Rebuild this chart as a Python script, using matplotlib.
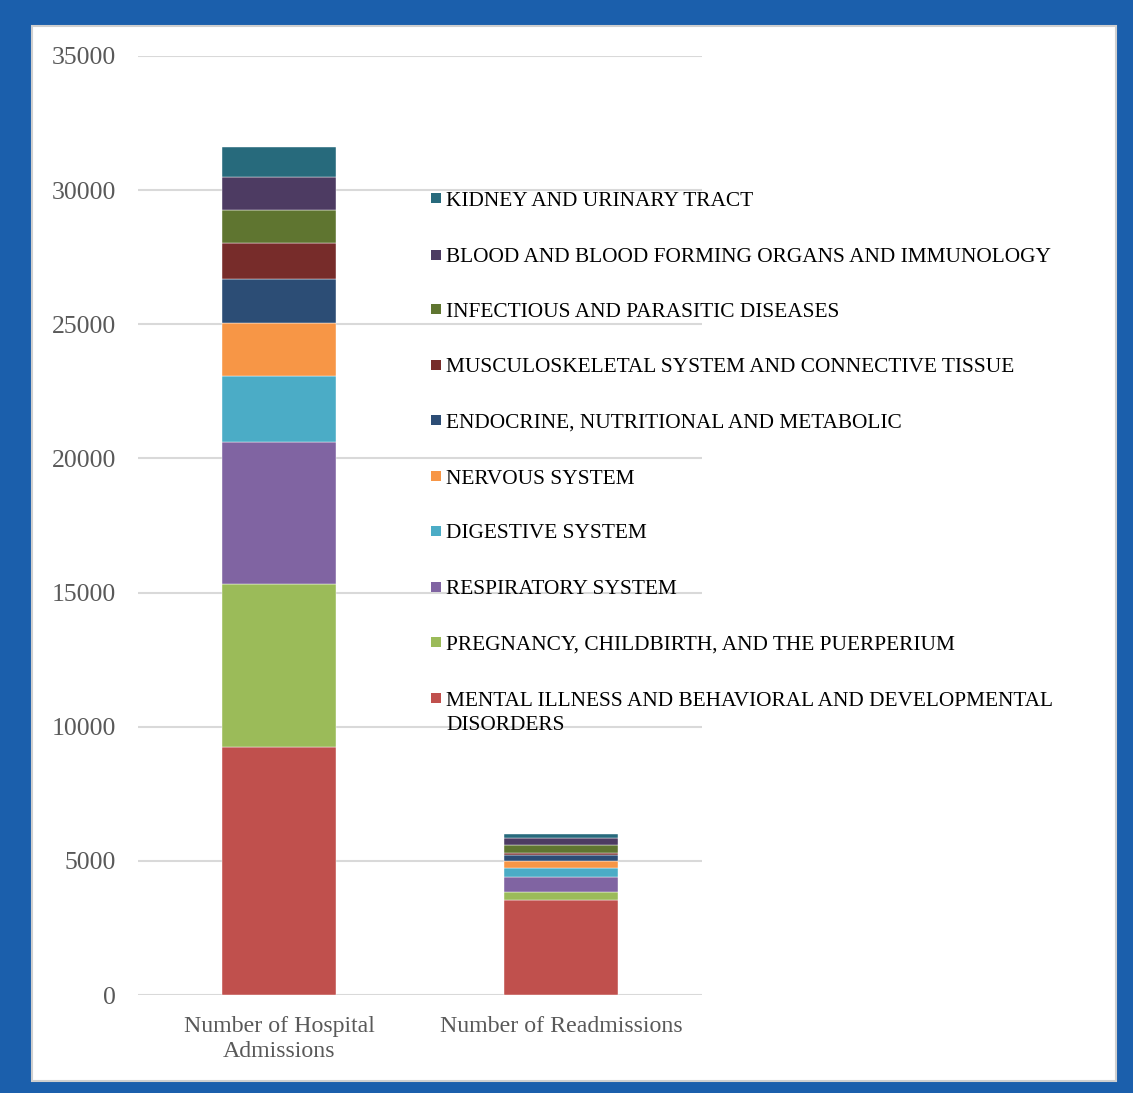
import matplotlib.pyplot as plt
from matplotlib.patches import Rectangle

groups = ['Number of Hospital\nAdmissions', 'Number of Readmissions']

categories = [
    'MENTAL ILLNESS AND BEHAVIORAL AND DEVELOPMENTAL\nDISORDERS',
    'PREGNANCY, CHILDBIRTH, AND THE PUERPERIUM',
    'RESPIRATORY SYSTEM',
    'DIGESTIVE SYSTEM',
    'NERVOUS SYSTEM',
    'ENDOCRINE, NUTRITIONAL AND METABOLIC',
    'MUSCULOSKELETAL SYSTEM AND CONNECTIVE TISSUE',
    'INFECTIOUS AND PARASITIC DISEASES',
    'BLOOD AND BLOOD FORMING ORGANS AND IMMUNOLOGY',
    'KIDNEY AND URINARY TRACT',
]

admissions = [9250, 6070, 5290, 2460, 1975, 1640, 1340, 1230, 1230, 1120]
readmissions = [3550, 290, 545, 360, 240, 235, 75, 290, 260, 160]

colors = ['#c0504d', '#9bbb59', '#8064a2', '#4bacc6', '#f79646',
          '#2c4d75', '#772c2a', '#5f7530', '#4d3b62', '#276a7c']

W, H = 1133, 1093
fig = plt.figure(figsize=(W / 100, H / 100), dpi=100)
fig.patch.set_facecolor('#1b5fac')
# white panel with thin grey edge
fig.patches.append(Rectangle((32 / W, 1 - 1081 / H), (1116 - 32) / W, (1081 - 26) / H,
                             transform=fig.transFigure, facecolor='white',
                             edgecolor='#cfcfcf', linewidth=1.5, zorder=-1))

ax = fig.add_axes([138 / W, 1 - 995 / H, 564 / W, (995 - 56) / H])
ax.set_facecolor('none')
ax.set_zorder(2)

x = range(len(groups))
bottom = [0, 0]
for i, cat in enumerate(categories):
    vals = [admissions[i], readmissions[i]]
    ax.bar(x, vals, width=0.405, bottom=bottom, color=colors[i],
           edgecolor='white', linewidth=0.3, zorder=3)
    bottom = [bottom[0] + vals[0], bottom[1] + vals[1]]

ax.set_xlim(-0.5, 1.5)
ax.set_ylim(0, 35000)
ax.set_yticks(range(0, 35001, 5000))
ax.yaxis.grid(True, color='#d9d9d9', linewidth=1.5, zorder=0)
ax.set_axisbelow(True)
for s in ax.spines.values():
    s.set_visible(False)
ax.tick_params(axis='y', length=0, labelsize=18.5, labelcolor='#595959', pad=16)
ax.tick_params(axis='x', length=0, labelsize=17.2, labelcolor='#595959', pad=15)
ax.set_xticks(list(x))
ax.set_xticklabels(groups, linespacing=1.23)
for lab in ax.get_xticklabels() + ax.get_yticklabels():
    lab.set_fontfamily('Liberation Serif')

# legend, top entry is the last category
leg_y = [198, 255, 309, 365, 420, 476, 531, 587, 642, 698]
for k, i in enumerate(reversed(range(len(categories)))):
    y = leg_y[k]
    fig.patches.append(Rectangle((431 / W, 1 - (y + 5) / H), 10 / W, 10 / H,
                                 transform=fig.transFigure, facecolor=colors[i],
                                 edgecolor='none', zorder=3))
    if '\n' in categories[i]:
        fig.text(446 / W, 1 - (y - 6) / H, categories[i], fontsize=15.4, color='black',
                 family='Liberation Serif', va='top', linespacing=1.36, zorder=3)
    else:
        fig.text(446 / W, 1 - (y + 3) / H, categories[i], fontsize=15.4, color='black',
                 family='Liberation Serif', va='center', zorder=3)

fig.savefig('out.png', dpi=100, facecolor=fig.get_facecolor())
